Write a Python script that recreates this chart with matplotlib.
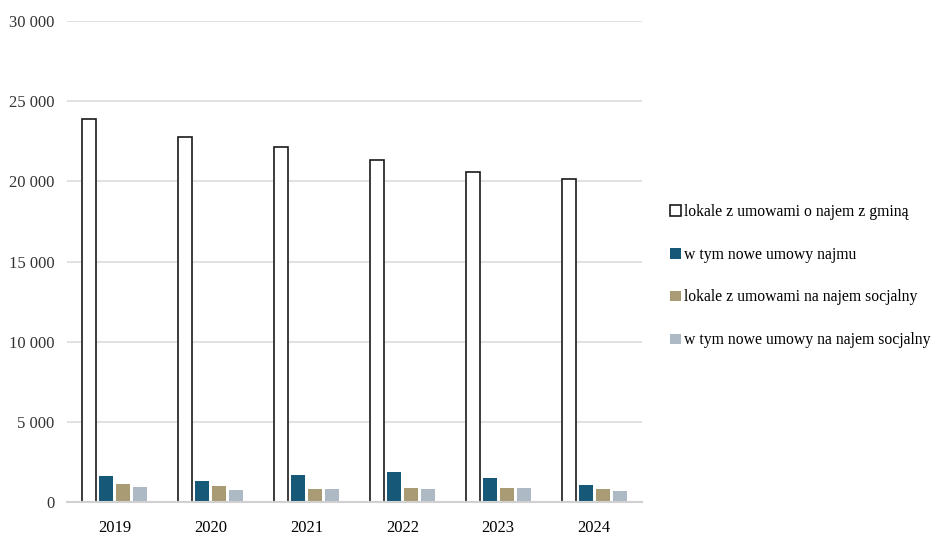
import matplotlib
matplotlib.use("Agg")
import matplotlib.pyplot as plt
import numpy as np

years = ["2019", "2020", "2021", "2022", "2023", "2024"]
series_labels = [
    "lokale z umowami o najem z gminą",
    "w tym nowe umowy najmu",
    "lokale z umowami na najem socjalny",
    "w tym nowe umowy na najem socjalny",
]
lokale_gmina = [23900, 22770, 22150, 21330, 20590, 20150]
nowe_najmu = [1620, 1310, 1690, 1900, 1500, 1030]
lokale_socjalne = [1120, 1000, 840, 900, 900, 840]
nowe_socjalne = [940, 720, 780, 840, 900, 690]

y_ticks = [0, 5000, 10000, 15000, 20000, 25000, 30000]
y_tick_labels = ["0", "5 000", "10 000", "15 000", "20 000", "25 000", "30 000"]

plt.rcParams["font.family"] = ["Liberation Serif", "DejaVu Serif"]
plt.rcParams["font.size"] = 12

fig = plt.figure(figsize=(9.34, 5.36), dpi=100)
ax = fig.add_axes([67 / 934, 34 / 536, 575 / 934, 481 / 536])

x = np.arange(len(years))
width = 0.146
step = 0.177
offsets = [-1.5 * step, -0.5 * step, 0.5 * step, 1.5 * step]

series = [lokale_gmina, nowe_najmu, lokale_socjalne, nowe_socjalne]
styles = [
    dict(facecolor="white", edgecolor="#1a1a1a", linewidth=1.2),
    dict(facecolor="#165878", edgecolor="none"),
    dict(facecolor="#a99b74", edgecolor="none"),
    dict(facecolor="#adb9c5", edgecolor="none"),
]

for values, off, style, label in zip(series, offsets, styles, series_labels):
    ax.bar(x + off, values, width=width, label=label, zorder=3, **style)

ax.set_xlim(-0.5, len(years) - 0.5)
ax.set_ylim(0, 30000)
ax.set_xticks(x)
ax.set_xticklabels(years, fontsize=12)
ax.set_yticks(y_ticks)
ax.set_yticklabels(y_tick_labels, fontsize=12, color="#333333")
ax.tick_params(axis="x", length=0, pad=13)
ax.tick_params(axis="y", length=0, pad=9)

ax.grid(axis="y", color="#dedede", linewidth=1.3, zorder=0)
for side in ["top", "right", "left"]:
    ax.spines[side].set_visible(False)
ax.spines["bottom"].set_color("#d0d0d0")
ax.spines["bottom"].set_linewidth(1.5)
ax.spines["bottom"].set_zorder(4)

handles, labels = ax.get_legend_handles_labels()
fig.legend(
    handles, labels,
    loc="center left",
    bbox_to_anchor=(656 / 934, 1 - 276 / 536),
    frameon=False,
    fontsize=11.3,
    handlelength=0.7,
    handleheight=0.7,
    handletextpad=0.2,
    labelspacing=1.72,
)

fig.savefig("out.png", dpi=100)
